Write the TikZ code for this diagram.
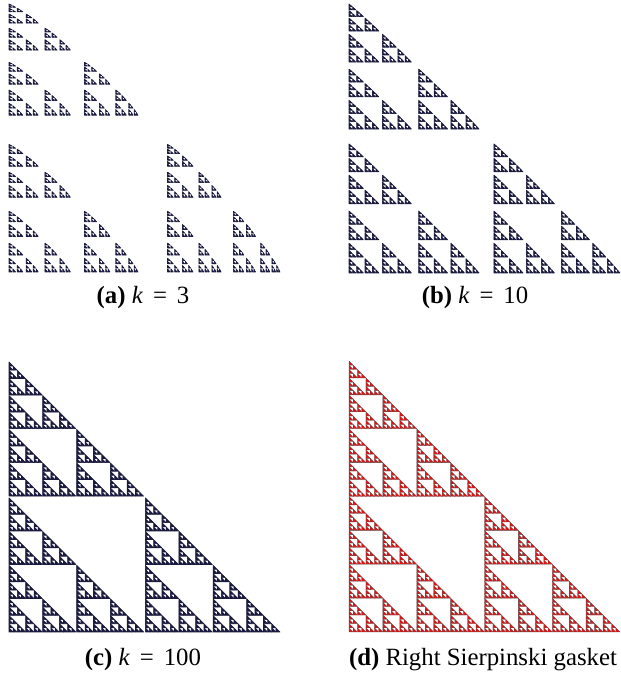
\documentclass[tikz,border=0pt]{standalone}
\usepackage{fontspec}
\setmainfont{Liberation Serif}

\definecolor{gasketnavy}{RGB}{26,26,62}
\definecolor{gasketred}{RGB}{226,18,18}
\definecolor{gasketedge}{RGB}{96,80,80}

% contraction of the maps: r (full), s (squeezed), t = 1-s
\newcommand\gskr{0.5}
\newcommand\gsks{0.5}
\newcommand\gskt{0.5}
% three affine copies of the unit right triangle, #1 levels deep
\newcommand\gasket[1]{%
  \ifnum#1<1
    \filldraw[gasket leaf] (0,0) -- (1,0) -- (0,1) -- cycle;
  \else
    \begin{scope}[cm={\gskr,0,0,\gskr,(0,0)}]\expandafter\gasket\expandafter{\the\numexpr#1-1\relax}\end{scope}
    \begin{scope}[cm={\gskr,0,0,\gsks,(0,\gskt)}]\expandafter\gasket\expandafter{\the\numexpr#1-1\relax}\end{scope}
    \begin{scope}[cm={\gsks,0,0,\gskr,(\gskt,0)}]\expandafter\gasket\expandafter{\the\numexpr#1-1\relax}\end{scope}
  \fi}

\tikzset{caption/.style={font=\fontsize{12.4}{15}\selectfont},
    navy leaf/.style={gasket leaf/.style={fill=gasketnavy,draw=gasketnavy,line width=0.3pt,line join=round}}}

\begin{document}
\begin{tikzpicture}[x=0.5pt,y=0.5pt]
    \useasboundingbox (0,0) rectangle (620,683);

    % (a) k = 3
    \begin{scope}[cm={271,0,0,268,(9,411)}, navy leaf]
        \def\gskr{0.476}\def\gsks{0.415}\def\gskt{0.585}
        \gasket{6}
    \end{scope}
    \node[caption] (capA) at (143,385) {\textbf{(a)} \textit{k}\hspace{0.4em}=\hspace{0.4em}3};

    % (b) k = 10
    \begin{scope}[cm={271,0,0,269,(349,410)}, navy leaf]
        \def\gskr{0.48}\def\gsks{0.465}\def\gskt{0.535}
        \gasket{6}
    \end{scope}
    \node[caption] (capB) at (475,385) {\textbf{(b)} \textit{k}\hspace{0.4em}=\hspace{0.4em}10};

    % (c) k = 100
    \begin{scope}[cm={271,0,0,270,(9,51)}, navy leaf]
        \def\gskr{0.497}\def\gsks{0.497}\def\gskt{0.503}
        \gasket{6}
    \end{scope}
    \node[caption] (capC) at (143,23) {\textbf{(c)} \textit{k}\hspace{0.4em}=\hspace{0.4em}100};

    % (d) the right Sierpinski gasket itself
    \begin{scope}[cm={271,0,0,271,(349,51)}, gasket leaf/.style={fill=gasketred,draw=gasketedge,line width=0.15pt}]
        \gasket{6}
    \end{scope}
    \node[caption] (capD) at (483,23) {\textbf{(d)} Right Sierpinski gasket};
\end{tikzpicture}
\end{document}
